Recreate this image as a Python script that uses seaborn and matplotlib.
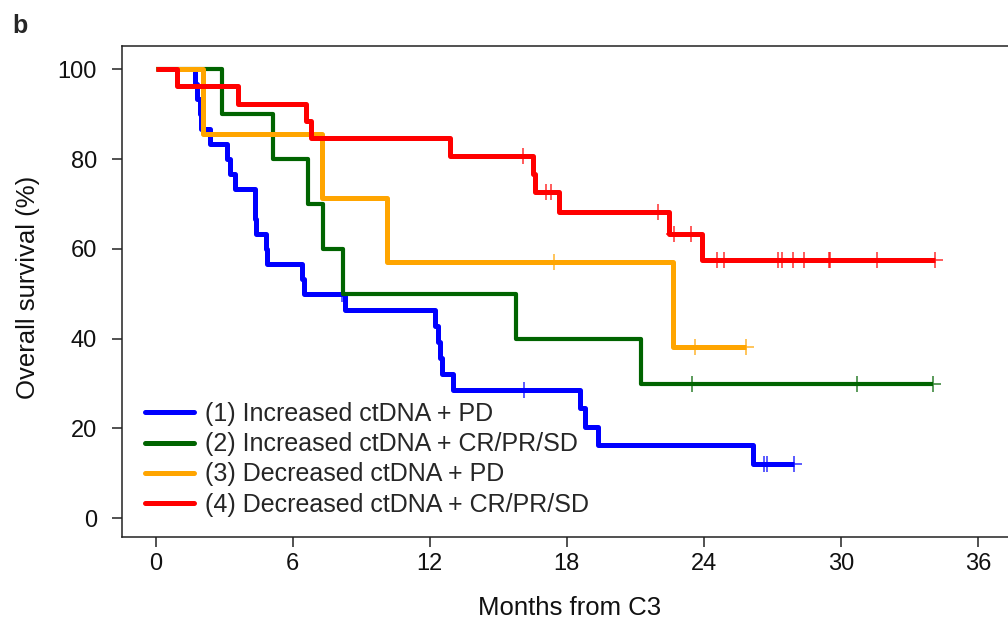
import numpy as np
import pandas as pd
import matplotlib
matplotlib.use("Agg")
import matplotlib.pyplot as plt
import seaborn as sns

sns.set_theme(style="white")
plt.rcParams['font.family'] = ['Liberation Sans', 'DejaVu Sans']

# ---------------- data ----------------
group_labels = ["(1) Increased ctDNA + PD",
                "(2) Increased ctDNA + CR/PR/SD",
                "(3) Decreased ctDNA + PD",
                "(4) Decreased ctDNA + CR/PR/SD"]
group_colors = ["#0000FF", "#006400", "#FFA500", "#FF0000"]

# step points: time (months) and survival (%) after each step; last point = end of follow-up
blue_time = [0, 1.75, 1.82, 1.95, 1.98, 2.40, 3.12, 3.26, 3.48, 4.35, 4.37, 4.39, 4.82, 4.89,
             6.42, 6.51, 8.29, 12.24, 12.35, 12.45, 12.55, 13.03, 18.58, 18.80, 19.35, 26.16, 27.96]
blue_surv = [100, 96.7, 93.3, 90.0, 86.7, 83.3, 80.0, 76.7, 73.3, 70.0, 66.7, 63.3, 60.0, 56.7,
             53.3, 50.0, 46.4, 42.9, 39.3, 35.7, 32.1, 28.6, 24.5, 20.4, 16.3, 12.2, 12.2]
blue_cens_time = [8.15, 16.13, 26.63, 26.75, 27.96]
blue_cens_surv = [50.0, 28.6, 12.2, 12.2, 12.2]

green_time = [0, 2.90, 5.13, 6.66, 7.32, 8.19, 15.78, 21.25, 34.04]
green_surv = [100, 90, 80, 70, 60, 50, 40, 30, 30]
green_cens_time = [23.50, 30.69, 34.04]
green_cens_surv = [30, 30, 30]

orange_time = [0, 2.10, 7.27, 10.12, 22.66, 25.84]
orange_surv = [100, 85.7, 71.4, 57.1, 38.1, 38.1]
orange_cens_time = [17.44, 23.61, 25.84]
orange_cens_surv = [57.1, 38.1, 38.1]

red_time = [0, 0.93, 3.60, 6.57, 6.80, 12.90, 16.50, 16.60, 17.66, 22.49, 23.92, 34.13]
red_surv = [100, 96.2, 92.3, 88.5, 84.6, 80.8, 76.7, 72.7, 68.2, 63.3, 57.6, 57.6]
red_cens_time = [16.07, 17.10, 17.30, 21.98, 22.69, 23.44, 24.56, 24.88, 27.23, 27.43,
                 27.90, 28.37, 29.47, 29.52, 31.57, 34.13]
red_cens_surv = [80.8, 72.7, 72.7, 68.2, 63.3, 63.3, 57.6, 57.6, 57.6, 57.6,
                 57.6, 57.6, 57.6, 57.6, 57.6, 57.6]

x_ticks = [0, 6, 12, 18, 24, 30, 36]
y_ticks = [0, 20, 40, 60, 80, 100]

curves = pd.concat([
    pd.DataFrame({"group": group_labels[0], "time": blue_time, "surv": blue_surv}),
    pd.DataFrame({"group": group_labels[1], "time": green_time, "surv": green_surv}),
    pd.DataFrame({"group": group_labels[2], "time": orange_time, "surv": orange_surv}),
    pd.DataFrame({"group": group_labels[3], "time": red_time, "surv": red_surv}),
], ignore_index=True)
censors = pd.concat([
    pd.DataFrame({"group": group_labels[0], "time": blue_cens_time, "surv": blue_cens_surv}),
    pd.DataFrame({"group": group_labels[1], "time": green_cens_time, "surv": green_cens_surv}),
    pd.DataFrame({"group": group_labels[2], "time": orange_cens_time, "surv": orange_cens_surv}),
    pd.DataFrame({"group": group_labels[3], "time": red_cens_time, "surv": red_cens_surv}),
], ignore_index=True)

# ---------------- figure ----------------
W, H = 1008, 619
fig = plt.figure(figsize=(W / 100, H / 100), dpi=100)
ax_left, ax_right, ax_top, ax_bot = 122, 1018, 46, 537
ax = fig.add_axes([ax_left / W, 1 - ax_bot / H, (ax_right - ax_left) / W, (ax_bot - ax_top) / H])

widths = [3.6, 3.0, 3.6, 3.6]
for lab, col, lw in zip(group_labels, group_colors, widths):
    sub = curves[curves["group"] == lab]
    sns.lineplot(data=sub, x="time", y="surv", ax=ax, color=col, linewidth=lw,
                 drawstyle="steps-post", estimator=None, sort=False, label=lab,
                 solid_capstyle="butt")
    cs = censors[censors["group"] == lab]
    ax.plot(cs["time"], cs["surv"], linestyle="none", marker="+", markersize=12,
            markeredgewidth=1.2, color=col, alpha=0.75)

ax.set_xlim((ax_left - 155.5) / 22.85, (ax_right - 155.5) / 22.85)
ax.set_ylim((518.3 - ax_bot) / 4.49, (518.3 - ax_top) / 4.49)
ax.set_xticks(x_ticks)
ax.set_yticks(y_ticks)
ax.tick_params(axis="both", direction="out", length=7.5, width=1.1, color="#222222",
               labelsize=17, labelcolor="#111111", bottom=True, left=True)
ax.tick_params(axis="y", pad=10.5)
ax.tick_params(axis="x", pad=4)
for side in ["left", "top", "bottom"]:
    ax.spines[side].set_visible(True)
    ax.spines[side].set_linewidth(1.1)
    ax.spines[side].set_color("#222222")
ax.spines["right"].set_visible(False)
ax.grid(False)

ax.set_xlabel("Months from C3", fontsize=18.5, color="#111111")
ax.set_ylabel("Overall survival (%)", fontsize=18.5, color="#111111")
ax.xaxis.set_label_coords(570 / W, 1 - 608 / H, transform=fig.transFigure)
ax.xaxis.label.set_verticalalignment("center")
ax.yaxis.set_label_coords(28 / W, 1 - 287 / H, transform=fig.transFigure)
ax.yaxis.label.set_verticalalignment("center")

leg = ax.legend(loc="upper left", bbox_to_anchor=(145 / W, 1 - 402 / H),
                bbox_transform=fig.transFigure, frameon=False, fontsize=18,
                handlelength=1.95, handletextpad=0.45, labelspacing=0.25,
                borderpad=0, borderaxespad=0)
for line in leg.get_lines():
    line.set_linewidth(3.6)
    line.set_solid_capstyle("round")

fig.text(12 / W, 1 - 33 / H, "b", fontsize=18, fontweight="bold", ha="left", va="baseline")

fig.savefig("out.png", dpi=100)
